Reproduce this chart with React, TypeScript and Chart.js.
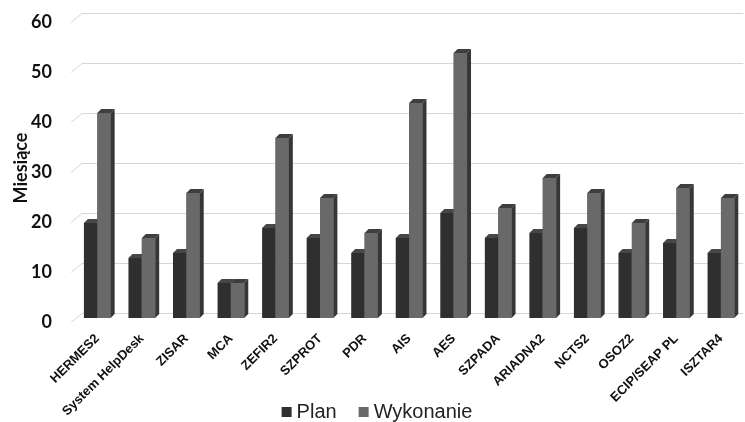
import { useEffect, useRef } from "react";
import { Chart, registerables } from "chart.js";

Chart.register(...registerables);

const categories = [
  "HERMES2",
  "System HelpDesk",
  "ZISAR",
  "MCA",
  "ZEFIR2",
  "SZPROT",
  "PDR",
  "AIS",
  "AES",
  "SZPADA",
  "ARIADNA2",
  "NCTS2",
  "OSOZ2",
  "ECIP/SEAP PL",
  "ISZTAR4",
];
const planValues = [19, 12, 13, 7, 18, 16, 13, 16, 21, 16, 17, 18, 13, 15, 13];
const wykonanieValues = [41, 16, 25, 7, 36, 24, 17, 43, 53, 22, 28, 25, 19, 26, 24];
const yTickValues = [0, 10, 20, 30, 40, 50, 60];

const seriesColors = ["#2f2f2f", "#696969"];
const faceColors = [
  { top: "#474747", side: "#1b1b1b" },
  { top: "#3e3e3e", side: "#363636" },
];

// depth of the bar prisms and of the back wall
const BAR_DX = 4;
const BAR_DY = 4;
const WALL_DX = 7;
const WALL_DY = 5;

const LEGEND_FONT = "20px 'Liberation Sans', Arial, sans-serif";
const LEGEND_Y = 412;
const LEGEND_CENTER_X = 377;

function drawFaces(ctx: CanvasRenderingContext2D, bar: any, colors: { top: string; side: string }) {
  const { x, y, base, width } = bar.getProps(["x", "y", "base", "width"], true);
  const l = x - width / 2;
  const r = x + width / 2;
  ctx.fillStyle = colors.side;
  ctx.beginPath();
  ctx.moveTo(r, y);
  ctx.lineTo(r + BAR_DX, y - BAR_DY);
  ctx.lineTo(r + BAR_DX, base - BAR_DY);
  ctx.lineTo(r, base);
  ctx.closePath();
  ctx.fill();
  ctx.fillStyle = colors.top;
  ctx.beginPath();
  ctx.moveTo(l, y);
  ctx.lineTo(l + BAR_DX, y - BAR_DY);
  ctx.lineTo(r + BAR_DX, y - BAR_DY);
  ctx.lineTo(r, y);
  ctx.closePath();
  ctx.fill();
}

const depthPlugin = {
  id: "depth3d",
  beforeDatasetsDraw(chart: any) {
    const { ctx, chartArea, scales } = chart;
    const y = scales.y;
    ctx.save();
    ctx.strokeStyle = "#d6d6d6";
    ctx.lineWidth = 1;
    for (const v of yTickValues) {
      const py = Math.round(y.getPixelForValue(v)) + 0.5;
      ctx.beginPath();
      ctx.moveTo(chartArea.left - 4, py + 4);
      ctx.lineTo(chartArea.left + WALL_DX, py - WALL_DY);
      ctx.lineTo(chartArea.right, py - WALL_DY);
      ctx.stroke();
    }
    ctx.restore();
  },
  afterDatasetsDraw(chart: any) {
    const { ctx } = chart;
    const planMeta = chart.getDatasetMeta(0);
    const wykMeta = chart.getDatasetMeta(1);
    ctx.save();
    planMeta.data.forEach((bar: any) => drawFaces(ctx, bar, faceColors[0]));
    // the second series stands in front of the plan prism's side
    wykMeta.data.forEach((bar: any) => {
      bar.draw(ctx);
      drawFaces(ctx, bar, faceColors[1]);
    });
    ctx.restore();
  },
  afterDraw(chart: any) {
    const { ctx } = chart;
    const items = chart.data.datasets.map((ds: any) => ({ label: ds.label, color: ds.backgroundColor }));
    const box = 10;
    const gap = 5;
    const spacing = 22;
    ctx.save();
    ctx.font = LEGEND_FONT;
    ctx.textBaseline = "middle";
    const widths = items.map((it: any) => box + gap + ctx.measureText(it.label).width);
    const total = widths.reduce((a: number, b: number) => a + b, 0) + spacing * (items.length - 1);
    let x = LEGEND_CENTER_X - total / 2;
    items.forEach((it: any, i: number) => {
      ctx.fillStyle = it.color;
      ctx.fillRect(x, LEGEND_Y - box / 2, box, box);
      ctx.fillStyle = "#222";
      ctx.fillText(it.label, x + box + gap, LEGEND_Y);
      x += widths[i] + spacing;
    });
    ctx.restore();
  },
};

export default function App() {
  const canvasRef = useRef<HTMLCanvasElement | null>(null);

  useEffect(() => {
    const canvas = canvasRef.current;
    if (!canvas) return;
    const chart = new Chart(canvas, {
      type: "bar",
      data: {
        labels: categories,
        datasets: [
          {
            label: "Plan",
            data: planValues,
            backgroundColor: seriesColors[0],
            barPercentage: 1,
            categoryPercentage: 0.6,
          },
          {
            label: "Wykonanie",
            data: wykonanieValues,
            backgroundColor: seriesColors[1],
            barPercentage: 1,
            categoryPercentage: 0.6,
          },
        ],
      },
      options: {
        responsive: false,
        animation: false,
        layout: { padding: { top: 18, right: 1, left: 0, bottom: 0 } },
        plugins: {
          tooltip: { enabled: false },
          legend: { display: false },
        },
        scales: {
          x: {
            grid: { display: false, drawTicks: false },
            border: { display: false },
            ticks: {
              color: "#111",
              font: { family: "'Liberation Sans', Arial, sans-serif", size: 13, weight: "bold" },
              minRotation: 45,
              maxRotation: 45,
              padding: 13,
              autoSkip: false,
            },
            afterFit: (scale: any) => {
              scale.height = 104;
            },
          },
          y: {
            min: 0,
            max: 60,
            grid: { display: false, drawTicks: false },
            border: { display: false },
            afterBuildTicks: (scale: any) => {
              scale.ticks = yTickValues.map((v) => ({ value: v }));
            },
            ticks: {
              color: "#111",
              font: { family: "Lato, 'Liberation Sans', sans-serif", size: 18, weight: "bold" },
              padding: 23,
              labelOffset: 4,
            },
            title: {
              display: true,
              text: "Miesiące",
              color: "#111",
              font: { family: "Lato, 'Liberation Sans', sans-serif", size: 18, weight: "bold" },
              padding: { top: 10, bottom: 0 },
            },
            afterFit: (scale: any) => {
              scale.width = 75;
              scale.paddingTop = 0;
              scale.paddingBottom = 0;
            },
          },
        },
      },
      plugins: [depthPlugin],
    });
    return () => chart.destroy();
  }, []);

  return (
    <div style={{ position: "absolute", left: 0, top: 0, width: 745, height: 422, background: "#fff" }}>
      <canvas ref={canvasRef} width={745} height={422} />
    </div>
  );
}
